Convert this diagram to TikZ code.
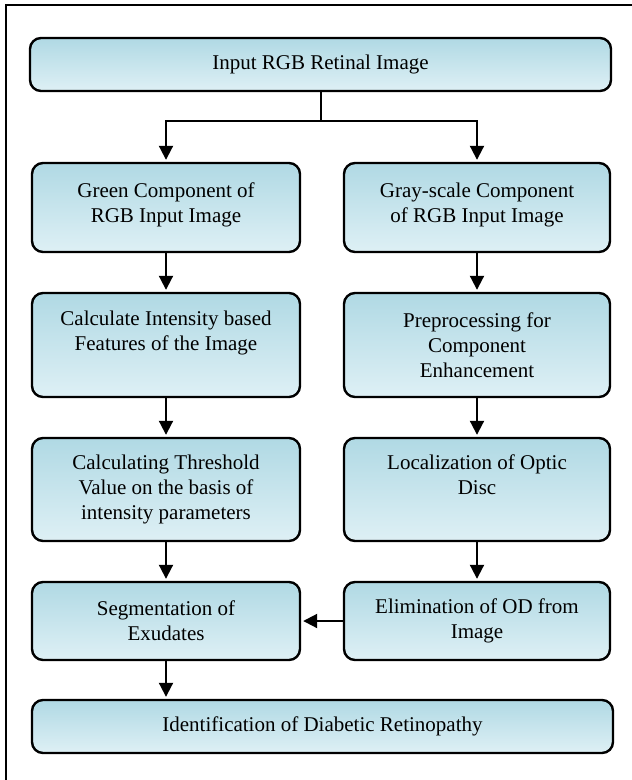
\documentclass[tikz,border=0pt]{standalone}
\usepackage{fontspec}
\setmainfont{Liberation Serif}
\usetikzlibrary{arrows.meta}
\definecolor{boxtop}{RGB}{176,217,228}
\definecolor{boxbot}{RGB}{222,240,245}
\begin{document}
\begin{tikzpicture}[x=1pt,y=-1pt,
  box/.style={draw=black, line width=2.4pt, rounded corners=11pt,
    top color=boxtop, bottom color=boxbot, align=center,
    font=\fontsize{21}{25}\selectfont, inner sep=0pt},
  arr/.style={line width=2pt, -{Triangle[length=14pt,width=14pt]}, shorten >=2pt},
  ln/.style={line width=2pt}]
\useasboundingbox (0,0) rectangle (632,780);
\draw[line width=2pt] (6,790) -- (6,5) -- (640,5);

\node[box, minimum width=581pt, minimum height=53pt] (top) at (320.5,64.5) {Input RGB Retinal Image};

\node[box, minimum width=268pt, minimum height=89pt] (l1) at (166,207.5) {Green Component of\\RGB Input Image\\[-15pt]\phantom{.}};
\node[box, minimum width=266pt, minimum height=89pt] (r1) at (477,207.5) {Gray-scale Component\\of RGB Input Image\\[-15pt]\phantom{.}};

\node[box, minimum width=268pt, minimum height=104pt] (l2) at (166,345) {Calculate Intensity based\\Features of the Image\\\phantom{Ig}};
\node[box, minimum width=266pt, minimum height=104pt] (r2) at (477,345) {Preprocessing for\\Component\\Enhancement};

\node[box, minimum width=268pt, minimum height=103pt] (l3) at (166,489.5) {Calculating Threshold\\Value on the basis of\\intensity parameters};
\node[box, minimum width=266pt, minimum height=103pt] (r3) at (477,489.5) {Localization of Optic\\Disc\\\phantom{Ig}};

\node[box, minimum width=268pt, minimum height=78pt] (l4) at (166,621) {Segmentation of\\Exudates};
\node[box, minimum width=266pt, minimum height=78pt] (r4) at (477,621) {Elimination of OD from\\Image};

\node[box, minimum width=581pt, minimum height=53pt] (bot) at (322.5,726.5) {Identification of Diabetic Retinopathy};

\coordinate (j) at (320.5,121);
\draw[ln] (top.south) -- (j);
\draw[arr] (j) -| (l1.north);
\draw[arr] (j) -| (r1.north);
\draw[arr] (l1.south) -- (l2.north);
\draw[arr] (r1.south) -- (r2.north);
\draw[arr] (l2.south) -- (l3.north);
\draw[arr] (r2.south) -- (r3.north);
\draw[arr] (l3.south) -- (l4.north);
\draw[arr] (r3.south) -- (r4.north);
\draw[arr] (r4.west) -- (l4.east);
\draw[arr] (l4.south) -- (l4.south |- bot.north);
\end{tikzpicture}
\end{document}
